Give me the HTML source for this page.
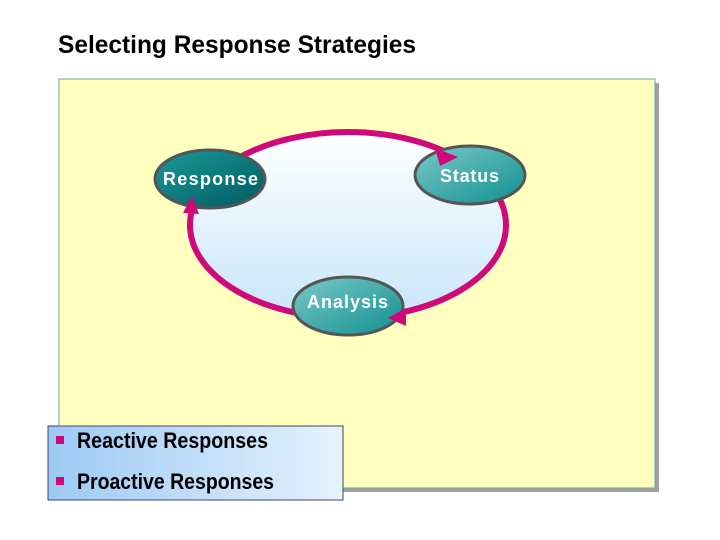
<!DOCTYPE html><html><head><style>
body{margin:0;width:720px;height:540px;background:#fff;position:relative;overflow:hidden;font-family:"Liberation Sans",sans-serif}
</style></head><body>
<svg width="720" height="540" style="position:absolute;left:0;top:0">
<defs>
<linearGradient id="bg" x1="0" y1="0" x2="0" y2="1"><stop offset="0" stop-color="#fff"/><stop offset="1" stop-color="#c8e6fa"/></linearGradient>
<linearGradient id="dk" x1="0" y1="0" x2="1" y2="1"><stop offset="0" stop-color="#1a9a9a"/><stop offset="1" stop-color="#005a60"/></linearGradient>
<linearGradient id="lt" x1="0" y1="0" x2="1" y2="1"><stop offset="0" stop-color="#7cc8c8"/><stop offset="1" stop-color="#109090"/></linearGradient>
<linearGradient id="bx" x1="0" y1="0" x2="1" y2="0"><stop offset="0" stop-color="#9ccaf5"/><stop offset="1" stop-color="#e6f2fd"/></linearGradient>
</defs>
<text x="58" y="53" font-size="25" font-weight="bold" textLength="358" lengthAdjust="spacingAndGlyphs">Selecting Response Strategies</text>
<rect x="63" y="83" width="596" height="409" fill="#a0a0a0"/>
<rect x="59" y="79" width="596" height="409" fill="#ffffc0" stroke="#6aa" stroke-width="1"/>
<ellipse cx="348" cy="225" rx="158" ry="93" fill="url(#bg)" stroke="#d0087a" stroke-width="6"/>
<ellipse cx="210" cy="179" rx="55" ry="29" fill="url(#dk)" stroke="#555" stroke-width="3"/>
<ellipse cx="470" cy="175" rx="55" ry="29" fill="url(#lt)" stroke="#555" stroke-width="3"/>
<ellipse cx="348" cy="306" rx="55" ry="29" fill="url(#lt)" stroke="#555" stroke-width="3"/>
<polygon points="183,213 192,196 199,214" fill="#d0087a"/>
<polygon points="406,308 388,318 406,326" fill="#d0087a"/>
<polygon points="435,148 458,157 440,166" fill="#d0087a"/>
<g font-size="18" font-weight="bold" fill="#fff" lengthAdjust="spacingAndGlyphs">
<text x="163" y="185" textLength="95">Response</text><text x="440" y="182" textLength="59">Status</text><text x="307" y="308" textLength="81">Analysis</text></g>
<rect x="48" y="426" width="295" height="74" fill="url(#bx)" stroke="#446" stroke-width="1"/>
<rect x="56" y="436" width="8" height="8" fill="#d0087a"/><rect x="56" y="477" width="8" height="8" fill="#d0087a"/>
<g font-size="22" font-weight="bold" fill="#000"><text x="77" y="448" textLength="191" lengthAdjust="spacingAndGlyphs">Reactive Responses</text><text x="77" y="489" textLength="197" lengthAdjust="spacingAndGlyphs">Proactive Responses</text></g>
</svg>
</body></html>
